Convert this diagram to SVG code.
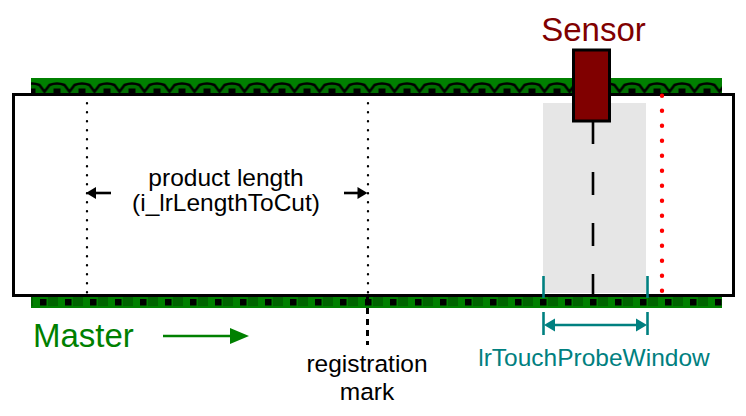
<svg xmlns="http://www.w3.org/2000/svg" width="746" height="416" viewBox="0 0 746 416">
<style>
text{font-family:"Liberation Sans",Arial,sans-serif}
.lbl{font-size:24.5px;fill:#000;text-anchor:middle}
.dot{stroke:#000;stroke-width:2.4;stroke-linecap:round;stroke-dasharray:0 9;fill:none}
.teal{stroke:#008080;stroke-width:2.6;fill:none}
</style>
<defs>
<pattern id="topBelt" x="44.5" y="78" width="25" height="17" patternUnits="userSpaceOnUse">
<rect width="25" height="17" fill="#008000"/>
<path d="M-1,15 L5,7 Q12.5,4 20,7 L26,15" fill="#006f00" stroke="#000" stroke-width="2.6"/>
<rect x="9" y="10.5" width="7" height="6.5" fill="#000"/>
</pattern>
<pattern id="botBelt" x="40" y="296" width="25" height="12" patternUnits="userSpaceOnUse">
<rect width="25" height="12" fill="#008000"/>
<rect x="8" y="0" width="10" height="10" fill="#006400"/>
<rect x="0" y="3" width="6.5" height="6.5" fill="#000"/>
</pattern>
</defs>
<g id="belt-top"><rect x="31" y="78" width="691" height="17" fill="url(#topBelt)"/></g>
<g id="belt-bottom"><rect x="31" y="296" width="691" height="12" fill="url(#botBelt)"/></g>
<g id="product"><rect x="13.5" y="94.5" width="720" height="201" fill="#fff" stroke="#000" stroke-width="3"/></g>
<g id="window-area"><rect x="543" y="103" width="103" height="190" fill="#e6e6e6"/></g>
<g id="connectors">
<line class="dot" x1="87" y1="103.3" x2="87" y2="293"/>
<line class="dot" x1="368" y1="103.3" x2="368" y2="293"/>
<line x1="662" y1="95.7" x2="662" y2="291" stroke="#ff0000" stroke-width="4.4" stroke-linecap="round" stroke-dasharray="0 15"/>
<line x1="593" y1="121" x2="593" y2="296" stroke="#000" stroke-width="2.6" stroke-dasharray="23 28"/>
<line x1="367.5" y1="297" x2="367.5" y2="345" stroke="#000" stroke-width="3" stroke-dasharray="6 5"/>
<line x1="111" y1="193" x2="93" y2="193" stroke="#000" stroke-width="2.6"/>
<polygon points="86,193 96,187 96,199" fill="#000"/>
<line x1="344" y1="193" x2="361" y2="193" stroke="#000" stroke-width="2.6"/>
<polygon points="367.5,193 357.5,187 357.5,199" fill="#000"/>
<line x1="163" y1="336" x2="233" y2="336" stroke="#008000" stroke-width="2.6"/>
<polygon points="230,328 249,336 230,344" fill="#008000"/>
<line class="teal" x1="543.5" y1="276" x2="543.5" y2="298"/>
<line class="teal" x1="647.5" y1="276" x2="647.5" y2="298"/>
<line class="teal" x1="543.5" y1="312" x2="543.5" y2="335"/>
<line class="teal" x1="647.5" y1="312" x2="647.5" y2="335"/>
<line class="teal" x1="550" y1="325" x2="641" y2="325" stroke-width="3"/>
<polygon points="544,325 555,318.5 555,331.5" fill="#008080"/>
<polygon points="647,325 636,318.5 636,331.5" fill="#008080"/>
</g>
<g id="sensor">
<rect x="573.5" y="50" width="36" height="71" fill="#800000" stroke="#000" stroke-width="3"/>
<text x="593.5" y="41" font-size="33" fill="#800000" text-anchor="middle">Sensor</text>
</g>
<g id="labels">
<text class="lbl" x="226" y="186">product length</text>
<text class="lbl" x="226" y="211">(i_lrLengthToCut)</text>
<text class="lbl" x="367" y="372">registration</text>
<text class="lbl" x="367" y="400">mark</text>
<text x="33" y="347" font-size="33" fill="#008000">Master</text>
<text x="594" y="366" font-size="24.5" fill="#008080" text-anchor="middle">lrTouchProbeWindow</text>
</g>
</svg>
